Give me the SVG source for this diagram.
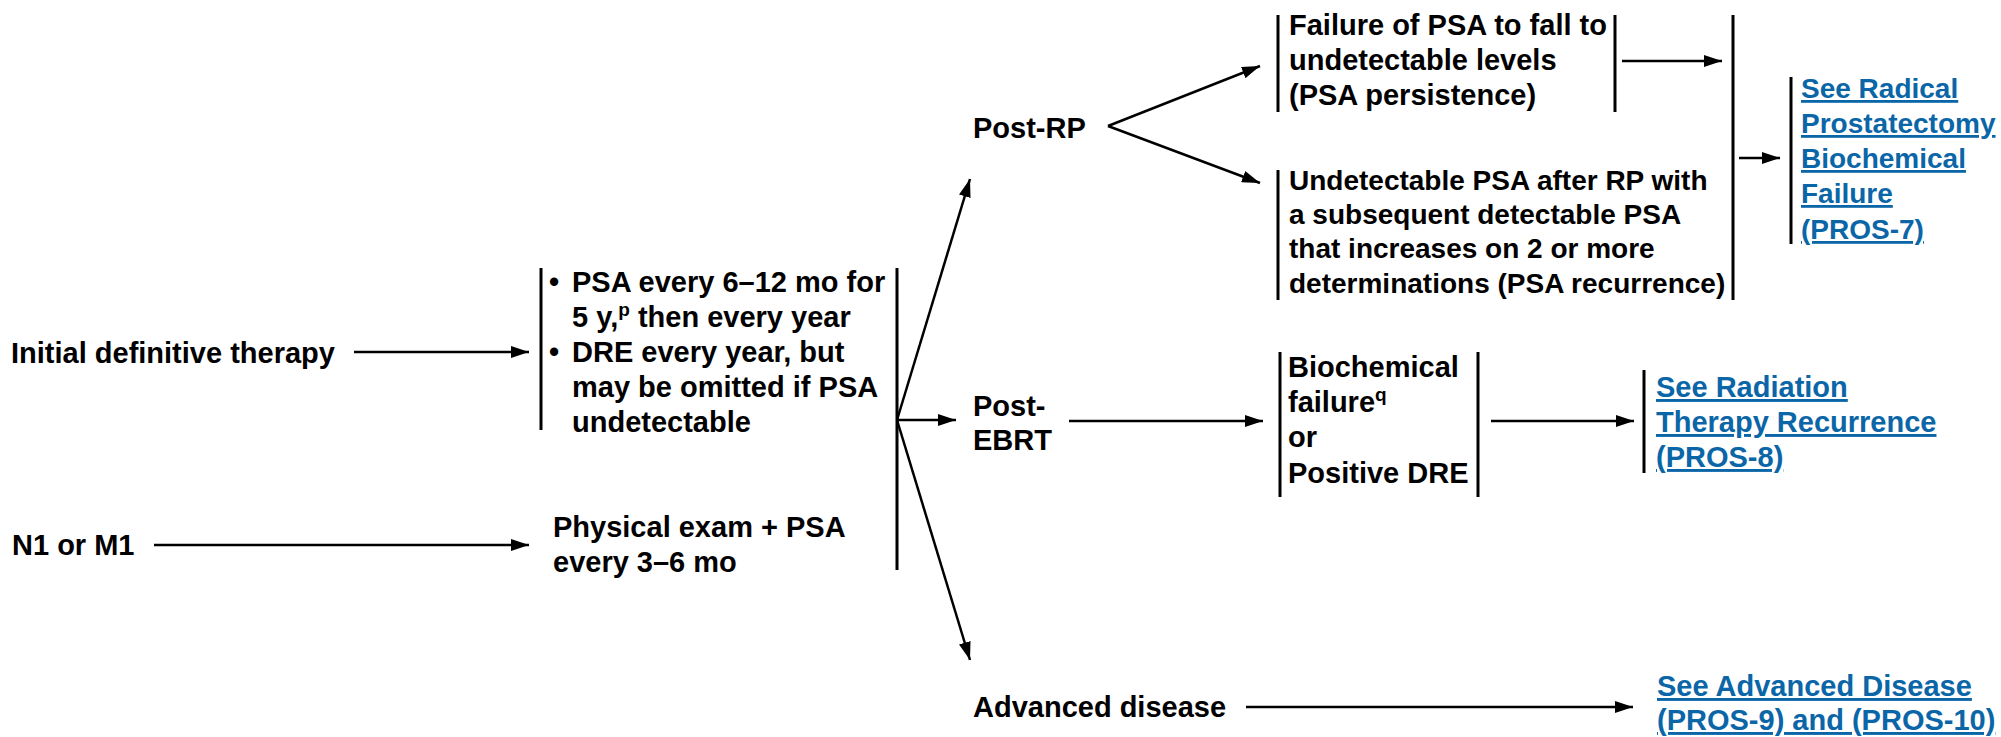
<svg xmlns="http://www.w3.org/2000/svg" width="2001" height="737" viewBox="0 0 2001 737">
<defs>
<marker id="ah" markerUnits="userSpaceOnUse" markerWidth="18" markerHeight="12" refX="18" refY="6" orient="auto">
<path d="M0,0 L18,6 L0,12 z" fill="#000"/>
</marker>
<style>
.t{font-family:"Liberation Sans",Arial,sans-serif;font-weight:bold;font-size:29px;fill:#000}
.s28{font-size:28px}
.lk{fill:#0b66a8;text-decoration:underline}
.sup{font-size:19px}
.br{stroke:#000;stroke-width:3;fill:none}
.cn{stroke:#000;stroke-width:2.5;fill:none;marker-end:url(#ah)}
</style>
</defs>
<rect width="2001" height="737" fill="#fff"/>

<g id="connectors">
<line class="cn" x1="354" y1="352" x2="529" y2="352"/>
<line class="cn" x1="154" y1="545" x2="529" y2="545"/>
<line class="cn" x1="897" y1="420" x2="970" y2="179"/>
<line class="cn" x1="897" y1="420" x2="956" y2="420"/>
<line class="cn" x1="897" y1="420" x2="970" y2="660"/>
<line class="cn" x1="1108" y1="126" x2="1260" y2="66"/>
<line class="cn" x1="1108" y1="126" x2="1260" y2="183"/>
<line class="cn" x1="1622" y1="61" x2="1722" y2="61"/>
<line class="cn" x1="1739" y1="158" x2="1780" y2="158"/>
<line class="cn" x1="1069" y1="421" x2="1263" y2="421"/>
<line class="cn" x1="1491" y1="421" x2="1634" y2="421"/>
<line class="cn" x1="1246" y1="707" x2="1633" y2="707"/>
</g>

<g id="initial">
<text class="t" x="11" y="363">Initial definitive therapy</text>
</g>

<g id="n1m1">
<text class="t" x="12" y="555">N1 or M1</text>
</g>

<g id="psa-followup">
<line class="br" x1="541" y1="268" x2="541" y2="430"/>
<line class="br" x1="897" y1="268" x2="897" y2="570"/>
<text class="t" x="549" y="292">•</text>
<text class="t" x="572" y="292">PSA every 6–12 mo for</text>
<text class="t" x="572" y="327">5 y,<tspan class="sup" dy="-11">p</tspan><tspan dy="11"> then every year</tspan></text>
<text class="t" x="549" y="362">•</text>
<text class="t" x="572" y="362">DRE every year, but</text>
<text class="t" x="572" y="397">may be omitted if PSA</text>
<text class="t" x="572" y="432">undetectable</text>
</g>

<g id="physical-exam">
<text class="t" x="553" y="537">Physical exam + PSA</text>
<text class="t" x="553" y="572">every 3–6 mo</text>
</g>

<g id="post-rp">
<text class="t" x="973" y="138">Post-RP</text>
</g>

<g id="post-ebrt">
<text class="t" x="973" y="416">Post-</text>
<text class="t" x="973" y="450">EBRT</text>
</g>

<g id="advanced">
<text class="t" x="973" y="717">Advanced disease</text>
</g>

<g id="psa-persistence">
<line class="br" x1="1278" y1="15" x2="1278" y2="112"/>
<line class="br" x1="1615" y1="15" x2="1615" y2="112"/>
<text class="t" x="1289" y="35">Failure of PSA to fall to</text>
<text class="t" x="1289" y="70">undetectable levels</text>
<text class="t" x="1289" y="105">(PSA persistence)</text>
</g>

<g id="psa-recurrence">
<line class="br" x1="1278" y1="170" x2="1278" y2="300"/>
<line class="br" x1="1733" y1="15" x2="1733" y2="300"/>
<text class="t s28" x="1289" y="190">Undetectable PSA after RP with</text>
<text class="t s28" x="1289" y="224">a subsequent detectable PSA</text>
<text class="t s28" x="1289" y="258">that increases on 2 or more</text>
<text class="t s28" x="1289" y="293">determinations (PSA recurrence)</text>
</g>

<g id="see-rp">
<line class="br" x1="1791" y1="77" x2="1791" y2="244"/>
<text class="t s28 lk" x="1801" y="98">See Radical</text>
<text class="t s28 lk" x="1801" y="133">Prostatectomy</text>
<text class="t s28 lk" x="1801" y="168">Biochemical</text>
<text class="t s28 lk" x="1801" y="203">Failure</text>
<text class="t s28 lk" x="1801" y="239">(PROS-7)</text>
</g>

<g id="biochemical">
<line class="br" x1="1280" y1="352" x2="1280" y2="497"/>
<line class="br" x1="1478" y1="352" x2="1478" y2="497"/>
<text class="t" x="1288" y="377">Biochemical</text>
<text class="t" x="1288" y="412">failure<tspan class="sup" dy="-11">q</tspan></text>
<text class="t" x="1288" y="447">or</text>
<text class="t" x="1288" y="483">Positive DRE</text>
</g>

<g id="see-rt">
<line class="br" x1="1644" y1="370" x2="1644" y2="473"/>
<text class="t lk" x="1656" y="397">See Radiation</text>
<text class="t lk" x="1656" y="432">Therapy Recurrence</text>
<text class="t lk" x="1656" y="467">(PROS-8)</text>
</g>

<g id="see-advanced">
<text class="t lk" x="1657" y="696">See Advanced Disease</text>
<text class="t lk" x="1657" y="730">(PROS-9) and (PROS-10)</text>
</g>
</svg>
